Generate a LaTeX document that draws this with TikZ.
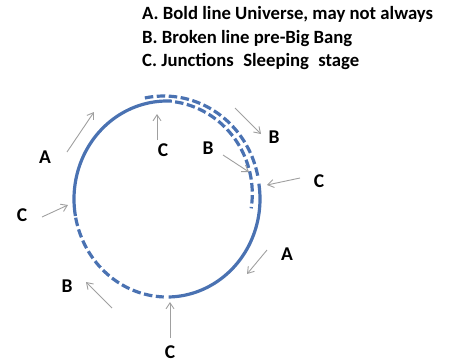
\documentclass[tikz,border=0pt]{standalone}
\usepackage{fontspec}
\setmainfont{Carlito}
\usetikzlibrary{arrows.meta}
\definecolor{ringblue}{HTML}{4A72B2}
\definecolor{arrowgray}{HTML}{A0A0A0}
\tikzset{
  solidring/.style={draw=ringblue, line width=3.2pt},
  dashring/.style={draw=ringblue, line width=3.2pt, dash pattern=on 8.5pt off 3.5pt},
  pointer/.style={draw=arrowgray, line width=0.9pt, -{Straight Barb[length=6pt,width=8pt]}},
  letter/.style={font=\fontsize{19.5}{19.5}\selectfont\bfseries, inner sep=0pt},
  legend/.style={font=\fontsize{18.7}{18.7}\selectfont\bfseries, inner sep=0pt, anchor=base west}
}
\begin{document}
\begin{tikzpicture}[x=1pt,y=-1pt]
\useasboundingbox (0,0) rectangle (453,362);
% legend
\node[legend] (l1) at (142,19.5) {A. Bold line Universe, may not always};
\node[legend] (l2) at (142,43) {B. Broken line pre-Big Bang};
\node[legend] (l3) at (142,66) {C. Junctions\enspace Sleeping\enspace stage};
% ring
\draw[solidring] plot[domain=87:190, samples=80] ({167+93*cos(\x)},{199-98*sin(\x)});
\draw[dashring] plot[domain=191:268, samples=60] ({167+93*cos(\x)},{199-98*sin(\x)});
\draw[solidring] plot[domain=271:369, samples=80] ({167+93*cos(\x)},{199-98*sin(\x)});
\draw[dashring] plot[domain=85:-6, samples=80] ({167+93*(0.995-0.085*(85-\x)/91)*cos(\x)},{199-98*(0.995-0.085*(85-\x)/91)*sin(\x)});
\draw[dashring] plot[domain=103:12, samples=80] ({167+93*(1.003+0.055*(\x-12)/91)*cos(\x)},{199-98*(1.003+0.055*(\x-12)/91)*sin(\x)});
% labels
\node[letter] (aL) at (45,157) {A};
\node[letter] (cT) at (163,150) {C};
\node[letter] (bM) at (208,148) {B};
\node[letter] (bR) at (274,137) {B};
\node[letter] (cR) at (319,181) {C};
\node[letter] (aR) at (287,254) {A};
\node[letter] (cL) at (22,215) {C};
\node[letter] (bL) at (67,286) {B};
\node[letter] (cB) at (170,352) {C};
% arrow end points
\coordinate (p1s) at (67,152);  \coordinate (p1e) at (94,112);
\coordinate (p2s) at (157,140); \coordinate (p2e) at (157,114);
\coordinate (p3s) at (235,108); \coordinate (p3e) at (261,134);
\coordinate (p4s) at (223,155); \coordinate (p4e) at (249,172);
\coordinate (p5s) at (300,178); \coordinate (p5e) at (267,185);
\coordinate (p6s) at (267,250); \coordinate (p6e) at (247,274);
\coordinate (p7s) at (42,217);  \coordinate (p7e) at (68,205);
\coordinate (p8s) at (112,308); \coordinate (p8e) at (86,282);
\coordinate (p9s) at (170,338); \coordinate (p9e) at (170,302);
\foreach \i in {1,...,9} {\draw[pointer] (p\i s) -- (p\i e);}
\end{tikzpicture}
\end{document}
